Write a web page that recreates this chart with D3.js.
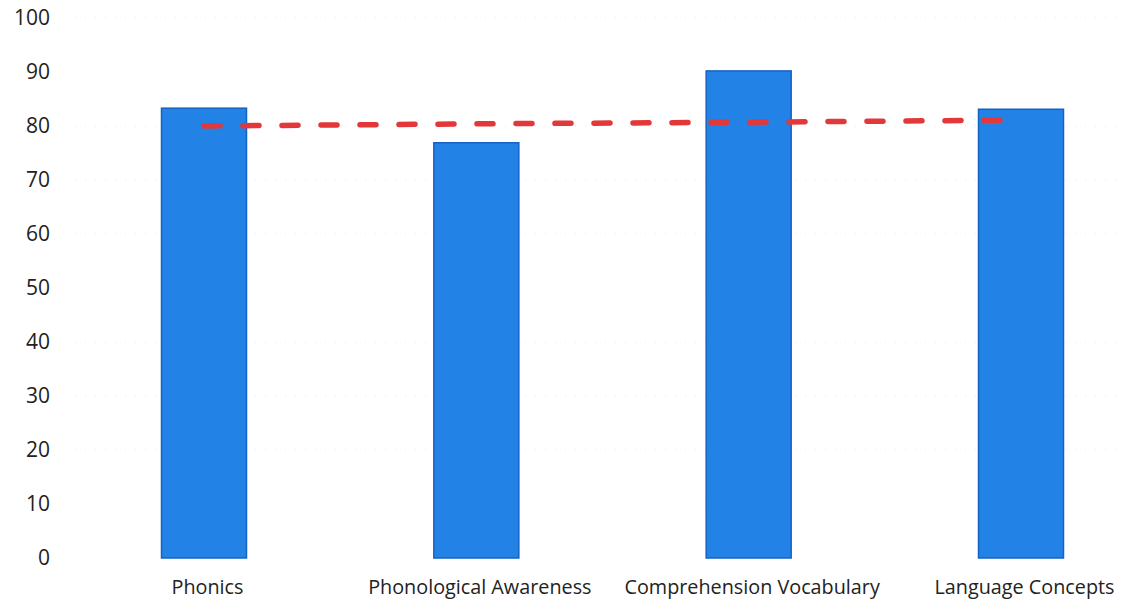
<!DOCTYPE html>
<html><head><meta charset="utf-8">
<script src="https://cdn.jsdelivr.net/npm/d3@7"></script>
<style>
html,body{margin:0;padding:0;background:#fff;}
text{font-family:"Open Sans",sans-serif;fill:#222;}
</style></head>
<body><svg id="chart" width="1121" height="606"></svg>
<script>
const categories = ["Phonics", "Phonological Awareness", "Comprehension Vocabulary", "Language Concepts"];
const scores = [83.3, 76.9, 90.2, 83.1];
const benchmark = [80.0, 80.4, 80.7, 81.1];
const yTicks = [0, 10, 20, 30, 40, 50, 60, 70, 80, 90, 100];

const svg = d3.select("#chart");
const x = d3.scalePoint().domain(categories).range([204, 1021]);
const y = d3.scaleLinear().domain([0, 100]).range([558, 18]);
const barW = 85;

// faint dotted grid (scan-like)
svg.append("g").selectAll("line").data(yTicks.slice(1)).join("line")
  .attr("x1", 75).attr("x2", 1121)
  .attr("y1", d => y(d)).attr("y2", d => y(d))
  .attr("stroke", "#ccc").attr("stroke-width", 1)
  .attr("stroke-dasharray", "1,9").attr("opacity", 0.45);

// bars
svg.append("g").selectAll("rect").data(categories).join("rect")
  .attr("x", d => x(d) - barW / 2)
  .attr("y", (d, i) => y(scores[i]))
  .attr("width", barW)
  .attr("height", (d, i) => y(0) - y(scores[i]))
  .attr("fill", "#2282e6")
  .attr("stroke", "#1463c4").attr("stroke-width", 1.5);

// benchmark dashed line
const line = d3.line().x((d, i) => x(categories[i])).y(d => y(d));
svg.append("path").datum(benchmark)
  .attr("d", line)
  .attr("fill", "none")
  .attr("stroke", "#e2383a").attr("stroke-width", 5.5)
  .attr("stroke-linecap", "round")
  .attr("stroke-dasharray", "16,23");

// y axis labels
const yAxis = d3.axisLeft(y).tickValues(yTicks).tickSize(0).tickPadding(0);
const ga = svg.append("g").attr("transform", "translate(50,0)").call(yAxis);
ga.select(".domain").remove();
ga.selectAll("text").attr("font-size", 21).style("font-family", "'Open Sans',sans-serif").attr("fill", "#222");

// x axis labels
const xAxis = d3.axisBottom(x).tickSize(0).tickPadding(0);
const gx = svg.append("g").attr("transform", "translate(3,580)").call(xAxis);
gx.select(".domain").remove();
gx.selectAll("text").attr("font-size", 19.8).style("font-family", "'Open Sans',sans-serif").attr("fill", "#222");
</script></body></html>
